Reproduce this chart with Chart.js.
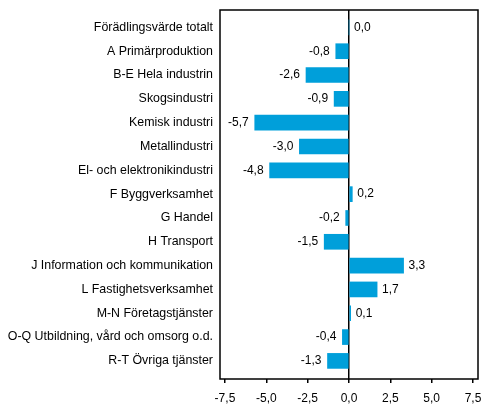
<!DOCTYPE html>
<html>
<head>
<meta charset="utf-8">
<script src="https://cdn.jsdelivr.net/npm/chart.js@4"></script>
<style>
  html, body { margin: 0; padding: 0; background: #fff; }
  #wrap { width: 491px; height: 416px; }
</style>
</head>
<body>
<div id="wrap"><canvas id="chart" width="491" height="416"></canvas></div>
<script>
const categories = [
  'Förädlingsvärde totalt',
  'A Primärproduktion',
  'B-E Hela industrin',
  'Skogsindustri',
  'Kemisk industri',
  'Metallindustri',
  'El- och elektronikindustri',
  'F Byggverksamhet',
  'G Handel',
  'H Transport',
  'J Information och kommunikation',
  'L Fastighetsverksamhet',
  'M-N Företagstjänster',
  'O-Q Utbildning, vård och omsorg o.d.',
  'R-T Övriga tjänster'
];
const values = [0.0, -0.8, -2.6, -0.9, -5.7, -3.0, -4.8, 0.2, -0.2, -1.5, 3.3, 1.7, 0.1, -0.4, -1.3];
const xTicks = [-7.5, -5.0, -2.5, 0.0, 2.5, 5.0, 7.5];

const fmt = v => v.toFixed(1).replace('.', ',');
const FAMILY = '"Liberation Sans", Arial, sans-serif';
const FONT = { family: FAMILY, size: 12 };

// frame round the plot area, then the value labels beside the bars
const labelPlugin = {
  id: 'valueLabels',
  afterDraw(chart) {
    const ctx = chart.ctx;
    const a = chart.chartArea;
    ctx.save();
    ctx.strokeStyle = '#000';
    ctx.lineWidth = 1.5;
    ctx.strokeRect(a.left, a.top, a.right - a.left, a.bottom - a.top);

    const meta = chart.getDatasetMeta(0);
    ctx.fillStyle = '#000';
    ctx.font = '12px ' + FAMILY;
    ctx.textBaseline = 'middle';
    meta.data.forEach((bar, i) => {
      const v = values[i];
      if (v < 0) {
        ctx.textAlign = 'right';
        ctx.fillText(fmt(v), bar.x - 6, bar.y);
      } else {
        ctx.textAlign = 'left';
        ctx.fillText(fmt(v), bar.x + 5, bar.y);
      }
    });
    ctx.restore();
  }
};

new Chart(document.getElementById('chart'), {
  type: 'bar',
  data: {
    datasets: [{
      data: values.map((v, i) => ({ x: v, y: i })),
      backgroundColor: '#009fda',
      borderWidth: 0,
      barThickness: 15
    }]
  },
  options: {
    indexAxis: 'y',
    responsive: false,
    animation: false,
    layout: { padding: { top: 10, right: 13, left: 0, bottom: 0 } },
    plugins: { legend: { display: false }, tooltip: { enabled: false } },
    scales: {
      x: {
        type: 'linear',
        min: -7.8,
        max: 7.8,
        afterBuildTicks: axis => { axis.ticks = xTicks.map(v => ({ value: v })); },
        afterFit: axis => { axis.height = 37; axis.paddingLeft = 0; axis.paddingRight = 0; },
        border: { display: false },
        grid: {
          color: c => (c.tick && c.tick.value === 0 ? '#000' : 'rgba(0,0,0,0)'),
          tickColor: '#000',
          tickLength: 4,
          lineWidth: 1.5
        },
        ticks: { color: '#000', font: FONT, padding: 8, callback: v => fmt(v) }
      },
      y: {
        type: 'linear',
        reverse: true,
        offset: false,
        min: -0.73,
        max: 14.76,
        afterBuildTicks: axis => { axis.ticks = categories.map((c, i) => ({ value: i })); },
        afterFit: axis => { axis.width = 220; axis.paddingTop = 0; axis.paddingBottom = 0; },
        border: { display: false },
        grid: { display: false, drawTicks: false, offset: false },
        ticks: { color: '#000', font: { family: FAMILY, size: 12.4 }, padding: 7, callback: v => categories[v] }
      }
    }
  },
  plugins: [labelPlugin]
});
</script>
</body>
</html>
